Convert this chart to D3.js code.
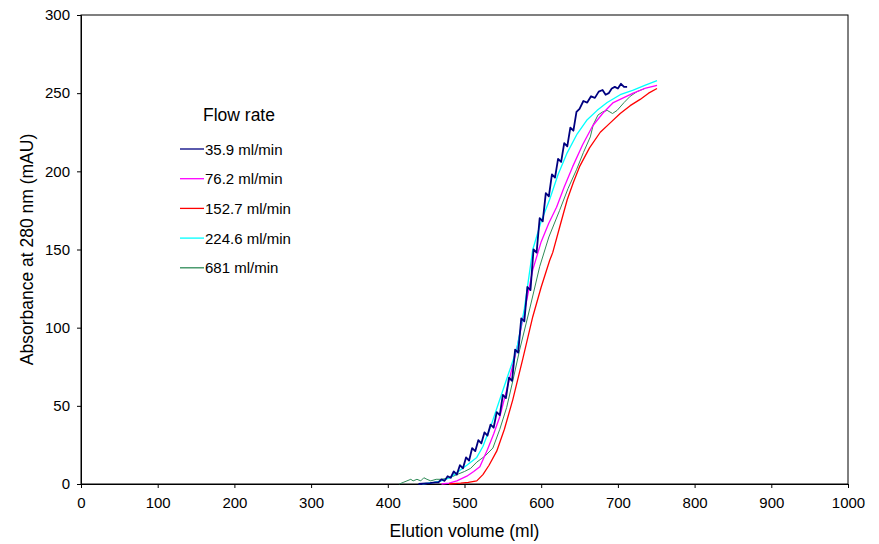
<!DOCTYPE html>
<html>
<head>
<meta charset="utf-8">
<script src="https://cdn.jsdelivr.net/npm/d3@7"></script>
<style>
  body { margin: 0; background: #fff; }
  text { font-family: "Liberation Sans", Arial, sans-serif; }
</style>
</head>
<body>
<div id="chart"></div>
<script>
// x ticks / y ticks
var xTicks = [0, 100, 200, 300, 400, 500, 600, 700, 800, 900, 1000];
var yTicks = [0, 50, 100, 150, 200, 250, 300];

var seriesNames = ["35.9 ml/min", "76.2 ml/min", "152.7 ml/min", "224.6 ml/min", "681 ml/min"];
var seriesColors = ["#000080", "#ff00ff", "#ff0000", "#00ffff", "#2e8b57"];

// [elution volume, absorbance]
var s359 = [[440,0],[455,0.5],[462,1],[466,1],[470,3],[474,2],[478,5],[482,4],[486,8],[490,6],[494,12],
  [498,10],[502,17],[506,15],[510,23],[514,21],[518,28],[522,26],[526,33],[530,31],[534,38],[538,36],
  [542,46],[546,44],[550,57],[554,55],[558,68],[562,66],[566,86],[570,84],[574,106],[578,104],[582,126],
  [586,124],[590,150],[594,148],[598,170],[602,168],[606,186],[610,184],[614,198],[618,196],[622,208],
  [626,206],[630,218],[634,216],[638,228],[642,226],[646,238],[650,240],[655,245],[660,244],[665,248],
  [670,247],[675,251],[680,252],[684,249],[688,250],[692,253],[696,254],[700,253],[704,256],[708,254],[712,254]];
var s762 = [[470,0],[480,0.5],[490,2],[503,5],[512,8],[520,11],[530,22],[538,32],[546,43],[557,64],
  [568,86],[578,110],[589,137],[600,155],[610,167],[620,177],[630,190],[641,203],[654,217],[667,229],
  [680,237],[694,244],[707,247],[720,250],[735,253],[751,255]];
var s1527 = [[480,0],[495,0.5],[505,1],[516,2],[524,6],[532,12],[542,21],[552,35],[563,54],[576,80],
  [589,107],[600,126],[611,143],[615,148],[625,166],[634,182],[642,193],[650,203],[663,215],[677,225],
  [690,231],[703,237],[716,242],[729,246],[740,250],[751,253]];
var s2246 = [[445,0],[460,1],[470,2],[481,4],[492,8],[503,12],[516,17],[524,24],[535,38],[546,54],
  [557,70],[568,86],[578,112],[589,150],[600,168],[611,182],[622,198],[634,212],[647,224],[660,233],
  [673,239],[686,244],[703,249],[720,252],[735,255],[751,258]];
var s681 = [[415,0],[420,1],[425,2],[430,3],[433,2],[438,3],[443,2],[447,4],[451,3],[456,2],[463,3],
  [470,3],[481,4],[490,6],[500,8],[508,10],[516,14],[527,18],[537,23],[546,35],[555,49],[563,66],
  [572,86],[585,112],[598,139],[610,158],[624,175],[635,189],[646,201],[655,212],[664,222],[668,230],
  [674,236],[680,238],[686,239],[693,237],[699,239],[708,244],[716,248],[725,251],[735,253]];

var seriesData = [s359, s762, s1527, s2246, s681];
var seriesWidths = [1.8, 1.3, 1.3, 1.3, 1];

var width = 879, height = 544;
var margin = {top: 15, right: 31, bottom: 60, left: 81};
var w = width - margin.left - margin.right;
var h = height - margin.top - margin.bottom;

var svg = d3.select("#chart").append("svg")
  .attr("width", width)
  .attr("height", height);

var g = svg.append("g")
  .attr("transform", "translate(" + margin.left + "," + margin.top + ")");

var x = d3.scaleLinear().domain([0, 1000]).range([0, w]);
var y = d3.scaleLinear().domain([0, 300]).range([h, 0]);

// frame
g.append("rect")
  .attr("x", 0).attr("y", 0)
  .attr("width", w).attr("height", h)
  .attr("fill", "none")
  .attr("stroke", "#000")
  .attr("stroke-width", 1);

var xAxis = g.append("g")
  .attr("transform", "translate(0," + h + ")")
  .call(d3.axisBottom(x).tickValues(xTicks).tickSize(4).tickPadding(9).tickFormat(d3.format("d")));
var yAxis = g.append("g")
  .call(d3.axisLeft(y).tickValues(yTicks).tickSize(4).tickPadding(7).tickFormat(d3.format("d")));

[xAxis, yAxis].forEach(function(a) {
  a.select(".domain").attr("stroke", "#000");
  a.selectAll("line").attr("stroke", "#000");
  a.selectAll("text").attr("font-size", "15px").attr("fill", "#000")
    .style("font-family", "'Liberation Sans', Arial, sans-serif");
});

var line = d3.line()
  .x(function(d) { return x(d[0]); })
  .y(function(d) { return y(d[1]); });

// draw order: green under, dark blue on top
[4, 1, 2, 3, 0].forEach(function(i) {
  g.append("path")
    .attr("d", line(seriesData[i]))
    .attr("fill", "none")
    .attr("stroke", seriesColors[i])
    .attr("stroke-width", seriesWidths[i])
    .attr("stroke-linejoin", "round");
});

// legend
var leg = g.append("g").attr("transform", "translate(99,0)");
leg.append("text")
  .attr("x", 23).attr("y", 106)
  .attr("font-size", "17.5px")
  .text("Flow rate");
seriesNames.forEach(function(n, i) {
  var yy = 134 + i * 29.7;
  leg.append("line")
    .attr("x1", 0).attr("x2", 24)
    .attr("y1", yy).attr("y2", yy)
    .attr("stroke", seriesColors[i])
    .attr("stroke-width", 1.3);
  leg.append("text")
    .attr("x", 25).attr("y", yy + 5.5)
    .attr("font-size", "15px")
    .text(n);
});

// axis titles
svg.append("text")
  .attr("x", margin.left + w / 2)
  .attr("y", 537)
  .attr("text-anchor", "middle")
  .attr("font-size", "17.5px")
  .text("Elution volume (ml)");

svg.append("text")
  .attr("transform", "translate(33," + (margin.top + h / 2) + ") rotate(-90)")
  .attr("text-anchor", "middle")
  .attr("font-size", "17.5px")
  .text("Absorbance at 280 nm (mAU)");
</script>
</body>
</html>
